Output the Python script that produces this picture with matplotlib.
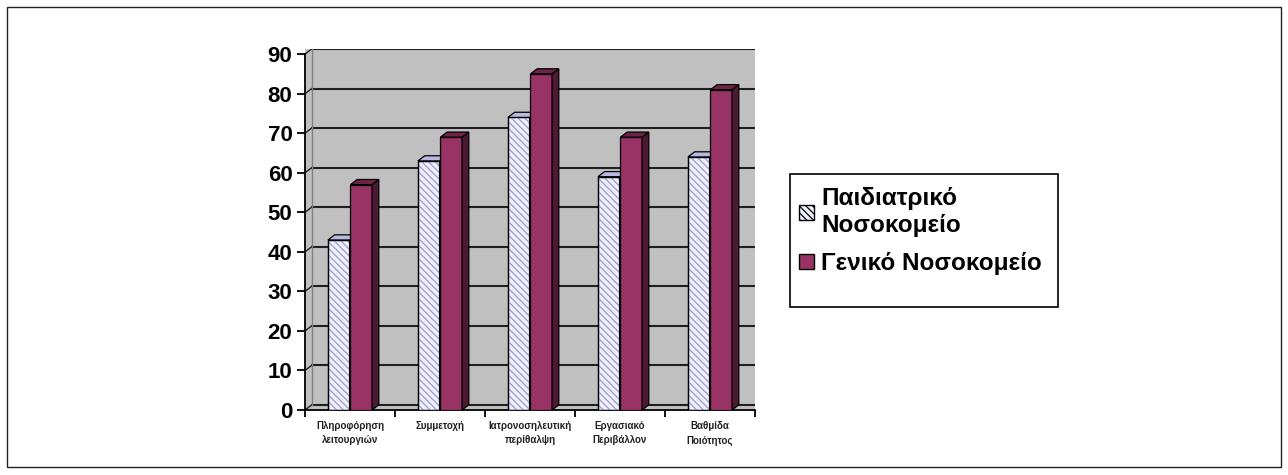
import numpy as np
import matplotlib.pyplot as plt
from matplotlib.patches import Polygon, Rectangle

plt.rcParams['font.family'] = ['Liberation Sans', 'DejaVu Sans']
plt.rcParams['hatch.linewidth'] = 0.9

# =========================
# DATA
# =========================
categories = [
    "Πληροφόρηση\nλειτουργιών",
    "Συμμετοχή",
    "Ιατρονοσηλευτική\nπερίθαλψη",
    "Εργασιακό\nΠεριβάλλον",
    "Βαθμίδα\nΠοιότητος",
]
series_names = ["Παιδιατρικό\nΝοσοκομείο", "Γενικό Νοσοκομείο"]
paediatric = [43, 63, 74, 59, 64]
general = [57, 69, 85, 69, 81]
yticks = [0, 10, 20, 30, 40, 50, 60, 70, 80, 90]

# =========================
# STYLE
# =========================
BAR_W = 0.24
DX, DY = 0.075, 1.3          # fake depth for the 3D look
WALL = "#c0c0c0"
PLUM = "#993366"
PLUM_SIDE = "#4d1a33"
PLUM_TOP = "#6b2447"
LIGHT = "#f0f0ff"
LIGHT_SIDE = "#9a9ac8"
LIGHT_TOP = "#b8b8e0"
HATCH_COL = "#9a9ad0"

fig = plt.figure(figsize=(12.88, 4.75), dpi=100)
fig.patches.append(Rectangle((7 / 1288, 8 / 475), 1274 / 1288, 460 / 475,
                             transform=fig.transFigure, fill=False,
                             edgecolor="#222222", linewidth=1.0))

ax = fig.add_axes([305 / 1288, 65 / 475, 450 / 1288, 361 / 475])
ax.set_facecolor(WALL)
ax.set_xlim(-0.5, 4.5)
ax.set_ylim(0, 90 + DY)

# back-wall gridlines and left-wall joints
for y in yticks:
    ax.plot([-0.5 + DX, 4.5], [y + DY, y + DY], color="#202020", lw=1.5, zorder=1)
    ax.plot([-0.5, -0.5 + DX], [y, y + DY], color="#202020", lw=1.0, zorder=1)
ax.plot([-0.5 + DX, -0.5 + DX], [DY, 90 + DY], color="#808080", lw=1.0, zorder=1)


def bar3d(x0, h, face, side, top, hatch=None, hatch_col=None):
    ax.bar(x0, h, width=BAR_W, align="edge", color=face, edgecolor="black",
           linewidth=0.9, zorder=3)
    if hatch:
        ax.bar(x0, h, width=BAR_W, align="edge", color="none", hatch=hatch,
               edgecolor=hatch_col, linewidth=0, zorder=3)
        ax.bar(x0, h, width=BAR_W, align="edge", color="none",
               edgecolor="black", linewidth=0.9, zorder=3)
    x1 = x0 + BAR_W
    ax.add_patch(Polygon([(x1, 0), (x1 + DX, DY), (x1 + DX, h + DY), (x1, h)],
                         closed=True, facecolor=side, edgecolor="black",
                         linewidth=0.9, zorder=3))
    ax.add_patch(Polygon([(x0, h), (x0 + DX, h + DY), (x1 + DX, h + DY), (x1, h)],
                         closed=True, facecolor=top, edgecolor="black",
                         linewidth=0.9, zorder=3))


x = np.arange(len(categories))
for i in range(len(categories)):
    bar3d(x[i] - 0.245, paediatric[i], LIGHT, LIGHT_SIDE, LIGHT_TOP,
          hatch="\\\\\\\\\\", hatch_col=HATCH_COL)
    bar3d(x[i] + 0.005, general[i], PLUM, PLUM_SIDE, PLUM_TOP)

# axes
for s in ["top", "right"]:
    ax.spines[s].set_visible(False)
ax.spines["left"].set_linewidth(1.3)
ax.spines["bottom"].set_linewidth(1.3)
ax.spines["left"].set_bounds(0, 90)
ax.set_yticks(yticks)
ax.set_yticklabels([str(v) for v in yticks], fontsize=16, fontweight="bold")
ax.tick_params(axis="y", direction="out", length=6, width=1.3, pad=3)
ax.set_xticks(np.arange(-0.5, 5.0, 1.0))
ax.set_xticklabels([])
ax.tick_params(axis="x", direction="out", length=5, width=1.3)
for i, lab in enumerate(categories):
    ax.text(x[i], -2.8, lab, ha="center", va="top", fontsize=7,
            fontweight="bold", linespacing=1.55, color="#222222")

# legend: frame drawn separately so it keeps the empty strip at the bottom
fig.patches.append(Rectangle((790 / 1288, 1 - 307 / 475), 268 / 1288, 133 / 475,
                             transform=fig.transFigure, facecolor="white",
                             edgecolor="black", linewidth=1.2, zorder=1))
h1 = Rectangle((0, 0), 1, 1, facecolor=LIGHT, hatch="\\\\\\\\\\",
               edgecolor="black", linewidth=1.0)
h2 = Rectangle((0, 0), 1, 1, facecolor=PLUM, edgecolor="black", linewidth=1.0)
leg = fig.legend([h1, h2], series_names, loc="upper left",
                 bbox_to_anchor=(794 / 1288, 1 - 182 / 475),
                 prop={"size": 17.5, "weight": "bold"}, frameon=False,
                 handlelength=0.62, handleheight=0.62, handletextpad=0.3,
                 borderpad=0.2, labelspacing=0.6, borderaxespad=0)
for t in leg.get_texts():
    t.set_linespacing(1.25)

fig.savefig("out.png", dpi=100)
